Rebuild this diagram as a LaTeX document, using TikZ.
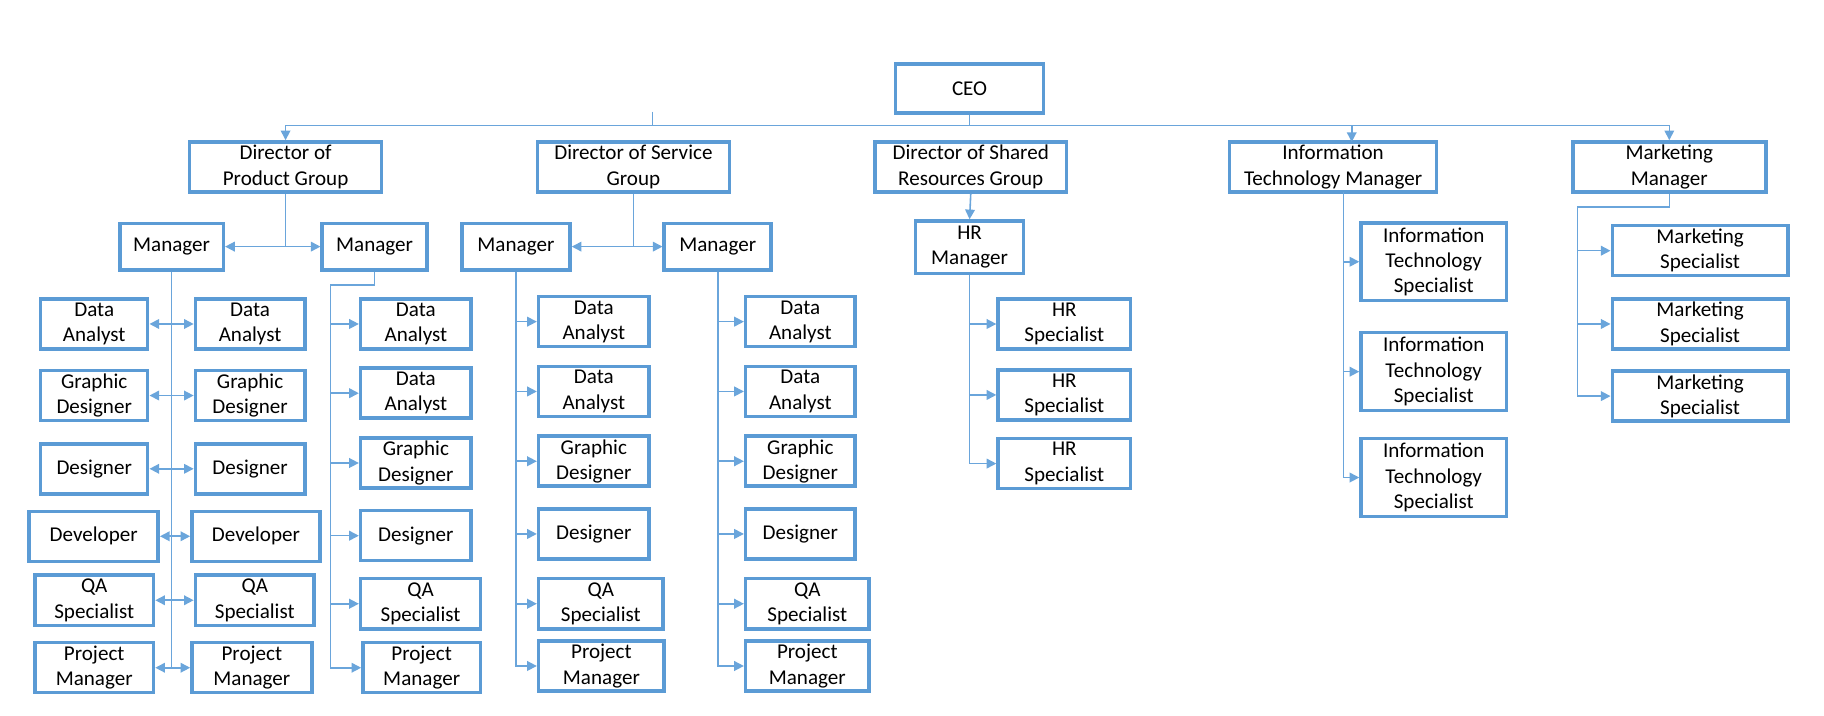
\documentclass[tikz,border=0pt]{standalone}
\usepackage{fontspec}
\setmainfont{Carlito}
\usetikzlibrary{arrows.meta}
\newlength{\unitpx}
\setlength{\unitpx}{0.023266cm}
\definecolor{boxblue}{HTML}{5B9BD5}
\definecolor{linkblue}{HTML}{6AA5DB}
\tikzstyle{box} = [rectangle, draw=boxblue, line width=2pt, align=center, inner sep=1pt, minimum height=43*\unitpx, font=\fontsize{12}{14.4}\selectfont]
\tikzstyle{link} = [draw=linkblue, line width=0.9pt]
\tikzstyle{arrow} = [link, ->, >={Triangle[length=5.5pt,width=5.5pt]}]

\begin{document}
\begin{tikzpicture}[x=\unitpx, y=-\unitpx]
\useasboundingbox (0,0) rectangle (1568,615);

% Top
\node (ceo) [box, minimum width=127*\unitpx, minimum height=42*\unitpx] at (833.5,76) {CEO};

% Directors
\node (product) [box, minimum width=165*\unitpx] at (245.5,143.5) {Director of\\Product Group};
\node (service) [box, minimum width=165*\unitpx] at (544.5,143.5) {Director of Service\\Group};
\node (shared) [box, minimum width=165*\unitpx] at (834.5,143.5) {Director of Shared\\Resources Group};
\node (itmgr) [box, minimum width=178*\unitpx] at (1146,143.5) {Information\\Technology Manager};
\node (mktmgr) [box, minimum width=166*\unitpx] at (1435,143.5) {Marketing\\Manager};

% Managers
\node (pmgrA) [box, minimum width=89*\unitpx, minimum height=40*\unitpx] at (147.5,212) {Manager};
\node (pmgrB) [box, minimum width=90*\unitpx, minimum height=40*\unitpx] at (322,212) {Manager};
\node (smgrA) [box, minimum width=93*\unitpx, minimum height=40*\unitpx] at (443.5,212) {Manager};
\node (smgrB) [box, minimum width=92*\unitpx, minimum height=40*\unitpx] at (617,212) {Manager};
\node (hrmgr) [box, minimum width=93*\unitpx, minimum height=45*\unitpx] at (833.5,212.5) {HR\\Manager};

% Product group, first manager
\node (pA1) [box, minimum width=92*\unitpx] at (81,278.5) {Data\\Analyst};
\node (pA2) [box, minimum width=92*\unitpx] at (81,340) {Graphic\\Designer};
\node (pA3) [box, minimum width=92*\unitpx] at (81,403) {Designer};
\node (pA4) [box, minimum width=111*\unitpx] at (80.5,461) {Developer};
\node (pA5) [box, minimum width=102*\unitpx] at (81,516) {QA\\Specialist};
\node (pA6) [box, minimum width=102*\unitpx] at (81,574) {Project\\Manager};
\node (pB1) [box, minimum width=94*\unitpx] at (215,278.5) {Data\\Analyst};
\node (pB2) [box, minimum width=94*\unitpx] at (215,340) {Graphic\\Designer};
\node (pB3) [box, minimum width=94*\unitpx] at (215,403) {Designer};
\node (pB4) [box, minimum width=110*\unitpx] at (220,461) {Developer};
\node (pB5) [box, minimum width=102*\unitpx] at (219,516) {QA\\Specialist};
\node (pB6) [box, minimum width=103*\unitpx] at (216.5,574) {Project\\Manager};

% Product group, second manager
\node (pC1) [box, minimum width=95*\unitpx] at (357.5,278.5) {Data\\Analyst};
\node (pC2) [box, minimum width=95*\unitpx] at (357.5,338) {Data\\Analyst};
\node (pC3) [box, minimum width=95*\unitpx] at (357.5,398) {Graphic\\Designer};
\node (pC4) [box, minimum width=95*\unitpx] at (357.5,460.5) {Designer};
\node (pC5) [box, minimum width=103*\unitpx] at (361.5,519) {QA\\Specialist};
\node (pC6) [box, minimum width=101*\unitpx] at (362.5,574) {Project\\Manager};

% Service group
\node (sA1) [box, minimum width=95*\unitpx] at (510.5,276.5) {Data\\Analyst};
\node (sA2) [box, minimum width=95*\unitpx] at (510.5,336.5) {Data\\Analyst};
\node (sA3) [box, minimum width=95*\unitpx] at (510.5,396.5) {Graphic\\Designer};
\node (sA4) [box, minimum width=95*\unitpx] at (510.5,459) {Designer};
\node (sA5) [box, minimum width=107*\unitpx] at (516.5,519) {QA\\Specialist};
\node (sA6) [box, minimum width=108*\unitpx] at (517,572.5) {Project\\Manager};
\node (sB1) [box, minimum width=94*\unitpx] at (688,276.5) {Data\\Analyst};
\node (sB2) [box, minimum width=94*\unitpx] at (688,336.5) {Data\\Analyst};
\node (sB3) [box, minimum width=94*\unitpx] at (688,396.5) {Graphic\\Designer};
\node (sB4) [box, minimum width=94*\unitpx] at (688,459) {Designer};
\node (sB5) [box, minimum width=106*\unitpx] at (694,519) {QA\\Specialist};
\node (sB6) [box, minimum width=106*\unitpx] at (694,572.5) {Project\\Manager};

% Shared resources
\node (hr1) [box, minimum width=114*\unitpx] at (915,278.5) {HR\\Specialist};
\node (hr2) [box, minimum width=114*\unitpx] at (915,339.5) {HR\\Specialist};
\node (hr3) [box, minimum width=114*\unitpx] at (915,398.5) {HR\\Specialist};

% IT
\node (it1) [box, minimum width=125*\unitpx, minimum height=67*\unitpx] at (1232.5,225) {Information\\Technology\\Specialist};
\node (it2) [box, minimum width=125*\unitpx, minimum height=67*\unitpx] at (1232.5,319.5) {Information\\Technology\\Specialist};
\node (it3) [box, minimum width=125*\unitpx, minimum height=67*\unitpx] at (1232.5,410.5) {Information\\Technology\\Specialist};

% Marketing
\node (mk1) [box, minimum width=151*\unitpx] at (1461.5,215.5) {Marketing\\Specialist};
\node (mk2) [box, minimum width=151*\unitpx] at (1461.5,278.5) {Marketing\\Specialist};
\node (mk3) [box, minimum width=151*\unitpx] at (1461.5,340.5) {Marketing\\Specialist};

% Turning points
\coordinate (bus) at (833.5,108);
\coordinate (stub) at (561,96);
\coordinate (itin) at (1162,122);
\coordinate (itdrop) at (1155,165);
\coordinate (pturn) at (284,245);
\coordinate (mkturn) at (1356,178);

% CEO links
\draw [arrow] (ceo.south) |- (bus) -| (product.north);
\draw [arrow] (ceo.south) |- (bus) -| (itin);
\draw [arrow] (ceo.south) |- (bus) -| (mktmgr.north);
\draw [link] (stub) -- (stub |- bus);

% Directors to managers
\draw [arrow] (product.south) |- (pmgrA.east);
\draw [arrow] (product.south) |- (pmgrB.west);
\draw [arrow] (service.south) |- (smgrA.east);
\draw [arrow] (service.south) |- (smgrB.west);
\draw [arrow] (shared.south) -- (hrmgr.north);

% Product group
\draw [arrow] (pmgrA.south) |- (pA1.east);
\draw [arrow] (pmgrA.south) |- (pA2.east);
\draw [arrow] (pmgrA.south) |- (pA3.east);
\draw [arrow] (pmgrA.south) |- (pA4.east);
\draw [arrow] (pmgrA.south) |- (pA5.east);
\draw [arrow] (pmgrA.south) |- (pA6.east);
\draw [arrow] (pmgrA.south) |- (pB1.west);
\draw [arrow] (pmgrA.south) |- (pB2.west);
\draw [arrow] (pmgrA.south) |- (pB3.west);
\draw [arrow] (pmgrA.south) |- (pB4.west);
\draw [arrow] (pmgrA.south) |- (pB5.west);
\draw [arrow] (pmgrA.south) |- (pB6.west);
\draw [arrow] (pmgrB.south) |- (pturn) |- (pC1.west);
\draw [arrow] (pmgrB.south) |- (pturn) |- (pC2.west);
\draw [arrow] (pmgrB.south) |- (pturn) |- (pC3.west);
\draw [arrow] (pmgrB.south) |- (pturn) |- (pC4.west);
\draw [arrow] (pmgrB.south) |- (pturn) |- (pC5.west);
\draw [arrow] (pmgrB.south) |- (pturn) |- (pC6.west);

% Service group
\draw [arrow] (smgrA.south) |- (sA1.west);
\draw [arrow] (smgrA.south) |- (sA2.west);
\draw [arrow] (smgrA.south) |- (sA3.west);
\draw [arrow] (smgrA.south) |- (sA4.west);
\draw [arrow] (smgrA.south) |- (sA5.west);
\draw [arrow] (smgrA.south) |- (sA6.west);
\draw [arrow] (smgrB.south) |- (sB1.west);
\draw [arrow] (smgrB.south) |- (sB2.west);
\draw [arrow] (smgrB.south) |- (sB3.west);
\draw [arrow] (smgrB.south) |- (sB4.west);
\draw [arrow] (smgrB.south) |- (sB5.west);
\draw [arrow] (smgrB.south) |- (sB6.west);

% HR, IT and marketing
\draw [arrow] (hrmgr.south) |- (hr1.west);
\draw [arrow] (hrmgr.south) |- (hr2.west);
\draw [arrow] (hrmgr.south) |- (hr3.west);
\draw [arrow] (itdrop) |- (it1.west);
\draw [arrow] (itdrop) |- (it2.west);
\draw [arrow] (itdrop) |- (it3.west);
\draw [arrow] (mktmgr.south) |- (mkturn) |- (mk1.west);
\draw [arrow] (mktmgr.south) |- (mkturn) |- (mk2.west);
\draw [arrow] (mktmgr.south) |- (mkturn) |- (mk3.west);

\end{tikzpicture}
\end{document}
